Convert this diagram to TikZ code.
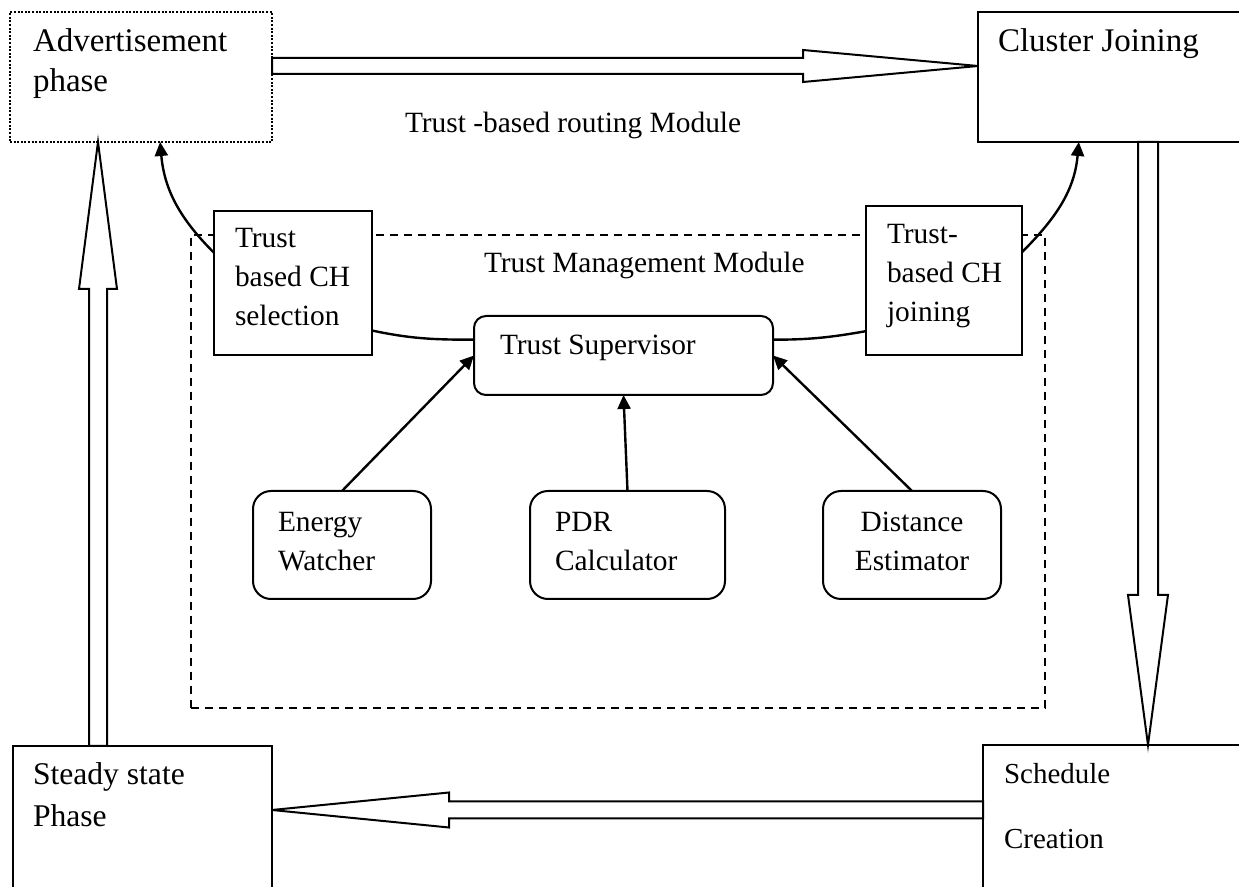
\documentclass[tikz,border=0pt]{standalone}
\usepackage{fontspec}
\setmainfont{Liberation Serif}
\usetikzlibrary{calc,arrows.meta}

% stacked lines, baseline at the first line
\newcommand{\stk}[1]{\begin{tabular}[t]{@{}l@{}}#1\end{tabular}}
\newcommand{\stc}[1]{\begin{tabular}[t]{@{}c@{}}#1\end{tabular}}

% font sizes
\newcommand{\fbig}{\fontsize{16.5}{20}\selectfont}
\newcommand{\fmid}{\fontsize{15.8}{21}\selectfont}
\newcommand{\fstd}{\fontsize{14.7}{19.5}\selectfont}
\newcommand{\fwide}{\fontsize{14.5}{32.5}\selectfont}

% hollow block arrow from #1 to #2: shaft half width #3, head half width #4, head length #5
\newcommand{\blockarrow}[5]{%
  \coordinate (ba-h) at ($(#2)!#5!(#1)$);
  \draw[blockarrow] ($(#1)!#3!90:(#2)$) -- ($(ba-h)!#3!90:(#2)$) -- ($(ba-h)!#4!90:(#2)$)
    -- (#2) -- ($(ba-h)!#4!-90:(#2)$) -- ($(ba-h)!#3!-90:(#2)$) -- ($(#1)!#3!-90:(#2)$) -- cycle;}

\tikzset{
  box/.style={draw, line width=1pt, fill=white, inner sep=0pt, outer sep=0pt, anchor=north west},
  rbox/.style={box, rounded corners=#1},
  dotbox/.style={box, dash pattern=on 1pt off 0.8pt},
  txt/.style={inner sep=0pt, outer sep=0pt, anchor=base west},
  blockarrow/.style={draw, line width=1pt, fill=white, line join=miter},
  conn/.style={draw, line width=1.2pt},
  tip/.style={-{Triangle[length=7pt,width=6.5pt]}},
}

\begin{document}
\begin{tikzpicture}[x=0.5pt, y=-0.5pt]
\useasboundingbox (0,0) rectangle (1239,887);

% Trust management module frame
\node[box, fill=none, dash pattern=on 4pt off 3pt, minimum width=427pt, minimum height=236.5pt] (tmm) at (191,235) {};

% outer phase boxes
\node[dotbox, minimum width=131pt, minimum height=65pt] (adv) at (10,12) {};
\node[box, minimum width=140pt, minimum height=65pt] (cj) at (978,12) {};
\node[box, minimum width=129.5pt, minimum height=80pt] (steady) at (13,746) {};
\node[box, minimum width=137.5pt, minimum height=80pt] (sched) at (983,745) {};

% trust-based CH boxes
\node[box, minimum width=79pt, minimum height=72pt] (chsel) at (214,211) {};
\node[box, minimum width=78pt, minimum height=74.5pt] (chjoin) at (866,206) {};

% supervisor and metric boxes
\node[rbox=6pt, minimum width=149.5pt, minimum height=39.5pt] (ts) at (474,316) {};
\node[rbox=9pt, minimum width=89pt, minimum height=54pt] (ew) at (253,491) {};
\node[rbox=9pt, minimum width=97.5pt, minimum height=54pt] (pdr) at (530,491) {};
\node[rbox=9pt, minimum width=89pt, minimum height=54pt] (de) at (823,491) {};

% texts
\node[txt, font=\fbig] (adv-t) at (33,52) {\stk{Advertisement\\phase}};
\node[txt, font=\fbig] (cj-t) at (998,52) {Cluster Joining};
\node[txt, font=\fmid] (steady-t) at (33,785) {\stk{Steady state\\Phase}};
\node[txt, font=\fwide] (sched-t) at (1004,784) {\stk{Schedule\\Creation}};
\node[txt, font=\fstd] (route-t) at (405,133) {Trust -based routing Module};
\node[txt, font=\fstd] (tmm-t) at (484,273) {Trust Management Module};
\node[txt, font=\fstd] (chsel-t) at (235,248) {\stk{Trust\\based CH\\selection}};
\node[txt, font=\fstd] (chjoin-t) at (887,244) {\stk{Trust-\\based CH\\joining}};
\node[txt, font=\fstd] (ts-t) at (500,355) {Trust Supervisor};
\node[txt, font=\fstd] (ew-t) at (278,532) {\stk{Energy\\Watcher}};
\node[txt, font=\fstd] (pdr-t) at (555,532) {\stk{PDR\\Calculator}};
\node[txt, font=\fstd, anchor=base] (de-t) at (912,532) {\stc{Distance\\Estimator}};

% phase cycle block arrows
\coordinate (topline) at (0,66);
\coordinate (botline) at (0,810);
\coordinate (rightline) at (1148,0);
\coordinate (leftline) at (98,0);
\blockarrow{adv.east |- topline}{cj.west |- topline}{4pt}{8pt}{87.5pt}
\blockarrow{cj.south -| rightline}{sched.north -| rightline}{5pt}{10pt}{75pt}
\blockarrow{sched.west |- botline}{steady.east |- botline}{4.25pt}{8.75pt}{88.5pt}
\blockarrow{steady.north -| leftline}{adv.south -| leftline}{4.5pt}{9.5pt}{73.5pt}

% CH boxes tied to the supervisor and to the phases
\draw[conn, tip] ($(chsel.north west)!0.29!(chsel.south west)$) to[out=135, in=-85]
  ($(adv.south west)!0.573!(adv.south east)$);
\draw[conn, tip] ($(chjoin.north east)!0.31!(chjoin.south east)$) to[out=45, in=-95]
  ($(cj.south west)!0.36!(cj.south east)$);
\draw[conn] ($(chsel.north east)!0.83!(chsel.south east)$) to[out=-12, in=180]
  ($(ts.north west)!0.3!(ts.south west)$);
\draw[conn] ($(ts.north east)!0.3!(ts.south east)$) to[out=0, in=190]
  ($(chjoin.north west)!0.84!(chjoin.south west)$);

% metrics feeding the supervisor
\draw[conn, tip] (ew.north) -- (ts.west);
\draw[conn, tip] (pdr.north) -- (ts.south);
\draw[conn, tip] (de.north) -- (ts.east);
\end{tikzpicture}
\end{document}
